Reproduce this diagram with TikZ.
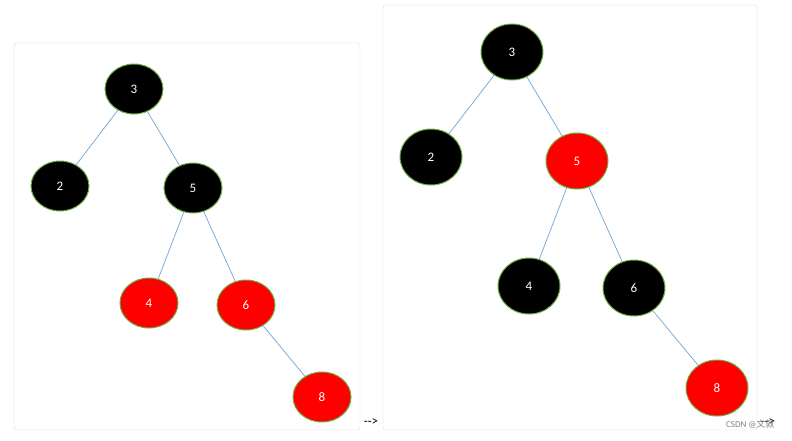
\documentclass[tikz,border=0pt]{standalone}
\usepackage{fontspec}
\setmainfont{Carlito}
\newfontfamily\cjk{Noto Sans CJK SC}
\usepackage{tikz}
\usetikzlibrary{shapes.geometric}
\definecolor{rimcol}{HTML}{70AD47}
\definecolor{edgecol}{HTML}{6FA3D6}
\definecolor{panelcol}{HTML}{D9D9D9}

\begin{document}
\begin{tikzpicture}[x=1pt, y=-1pt,
  blk/.style={ellipse, draw=rimcol, line width=1pt, fill=black, text=white, inner sep=0pt,
              font=\fontsize{13}{13}\selectfont},
  rd/.style={blk, fill=red},
  sm/.style={minimum width=58pt, minimum height=50pt},
  bg/.style={minimum width=62pt, minimum height=56pt},
  panel/.style={draw=panelcol, rounded corners=3pt},
  link/.style={draw=edgecol, line width=0.7pt}]

  \useasboundingbox (0,0) rectangle (792,440);

  % before
  \draw[panel] (14,43) rectangle (360,430);
  \node[blk, sm] (a3) at (134,89) {3};
  \node[blk, sm] (a2) at (60,186) {2};
  \node[blk, sm] (a5) at (193,188) {5};
  \node[rd, sm] (a4) at (149,303) {4};
  \node[rd, sm] (a6) at (246,305) {6};
  \node[rd, sm] (a8) at (322,397) {8};
  \foreach \u/\v in {a3/a2, a3/a5, a5/a4, a5/a6, a6/a8} \draw[link] (\u) -- (\v);
  \node[font=\fontsize{13}{13}\selectfont] (arr1) at (371,422) {{-}{-}>};

  % after
  \draw[panel] (383,5) rectangle (757,430);
  \node[blk, bg] (b3) at (512,52) {3};
  \node[blk, bg] (b2) at (431,157) {2};
  \node[rd, bg] (b5) at (577,161) {5};
  \node[blk, bg] (b4) at (529,286) {4};
  \node[blk, bg] (b6) at (634,288) {6};
  \node[rd, bg] (b8) at (717,388) {8};
  \foreach \u/\v in {b3/b2, b3/b5, b5/b4, b5/b6, b6/b8} \draw[link] (\u) -- (\v);
  \node[font=\fontsize{13}{13}\selectfont] (arr2) at (768,422) {{-}{-}>};

  \node[text=gray, font=\fontsize{9}{9}\selectfont, anchor=east] (mark) at (778,424) {CSDN @{\cjk 文敦}};
\end{tikzpicture}
\end{document}
